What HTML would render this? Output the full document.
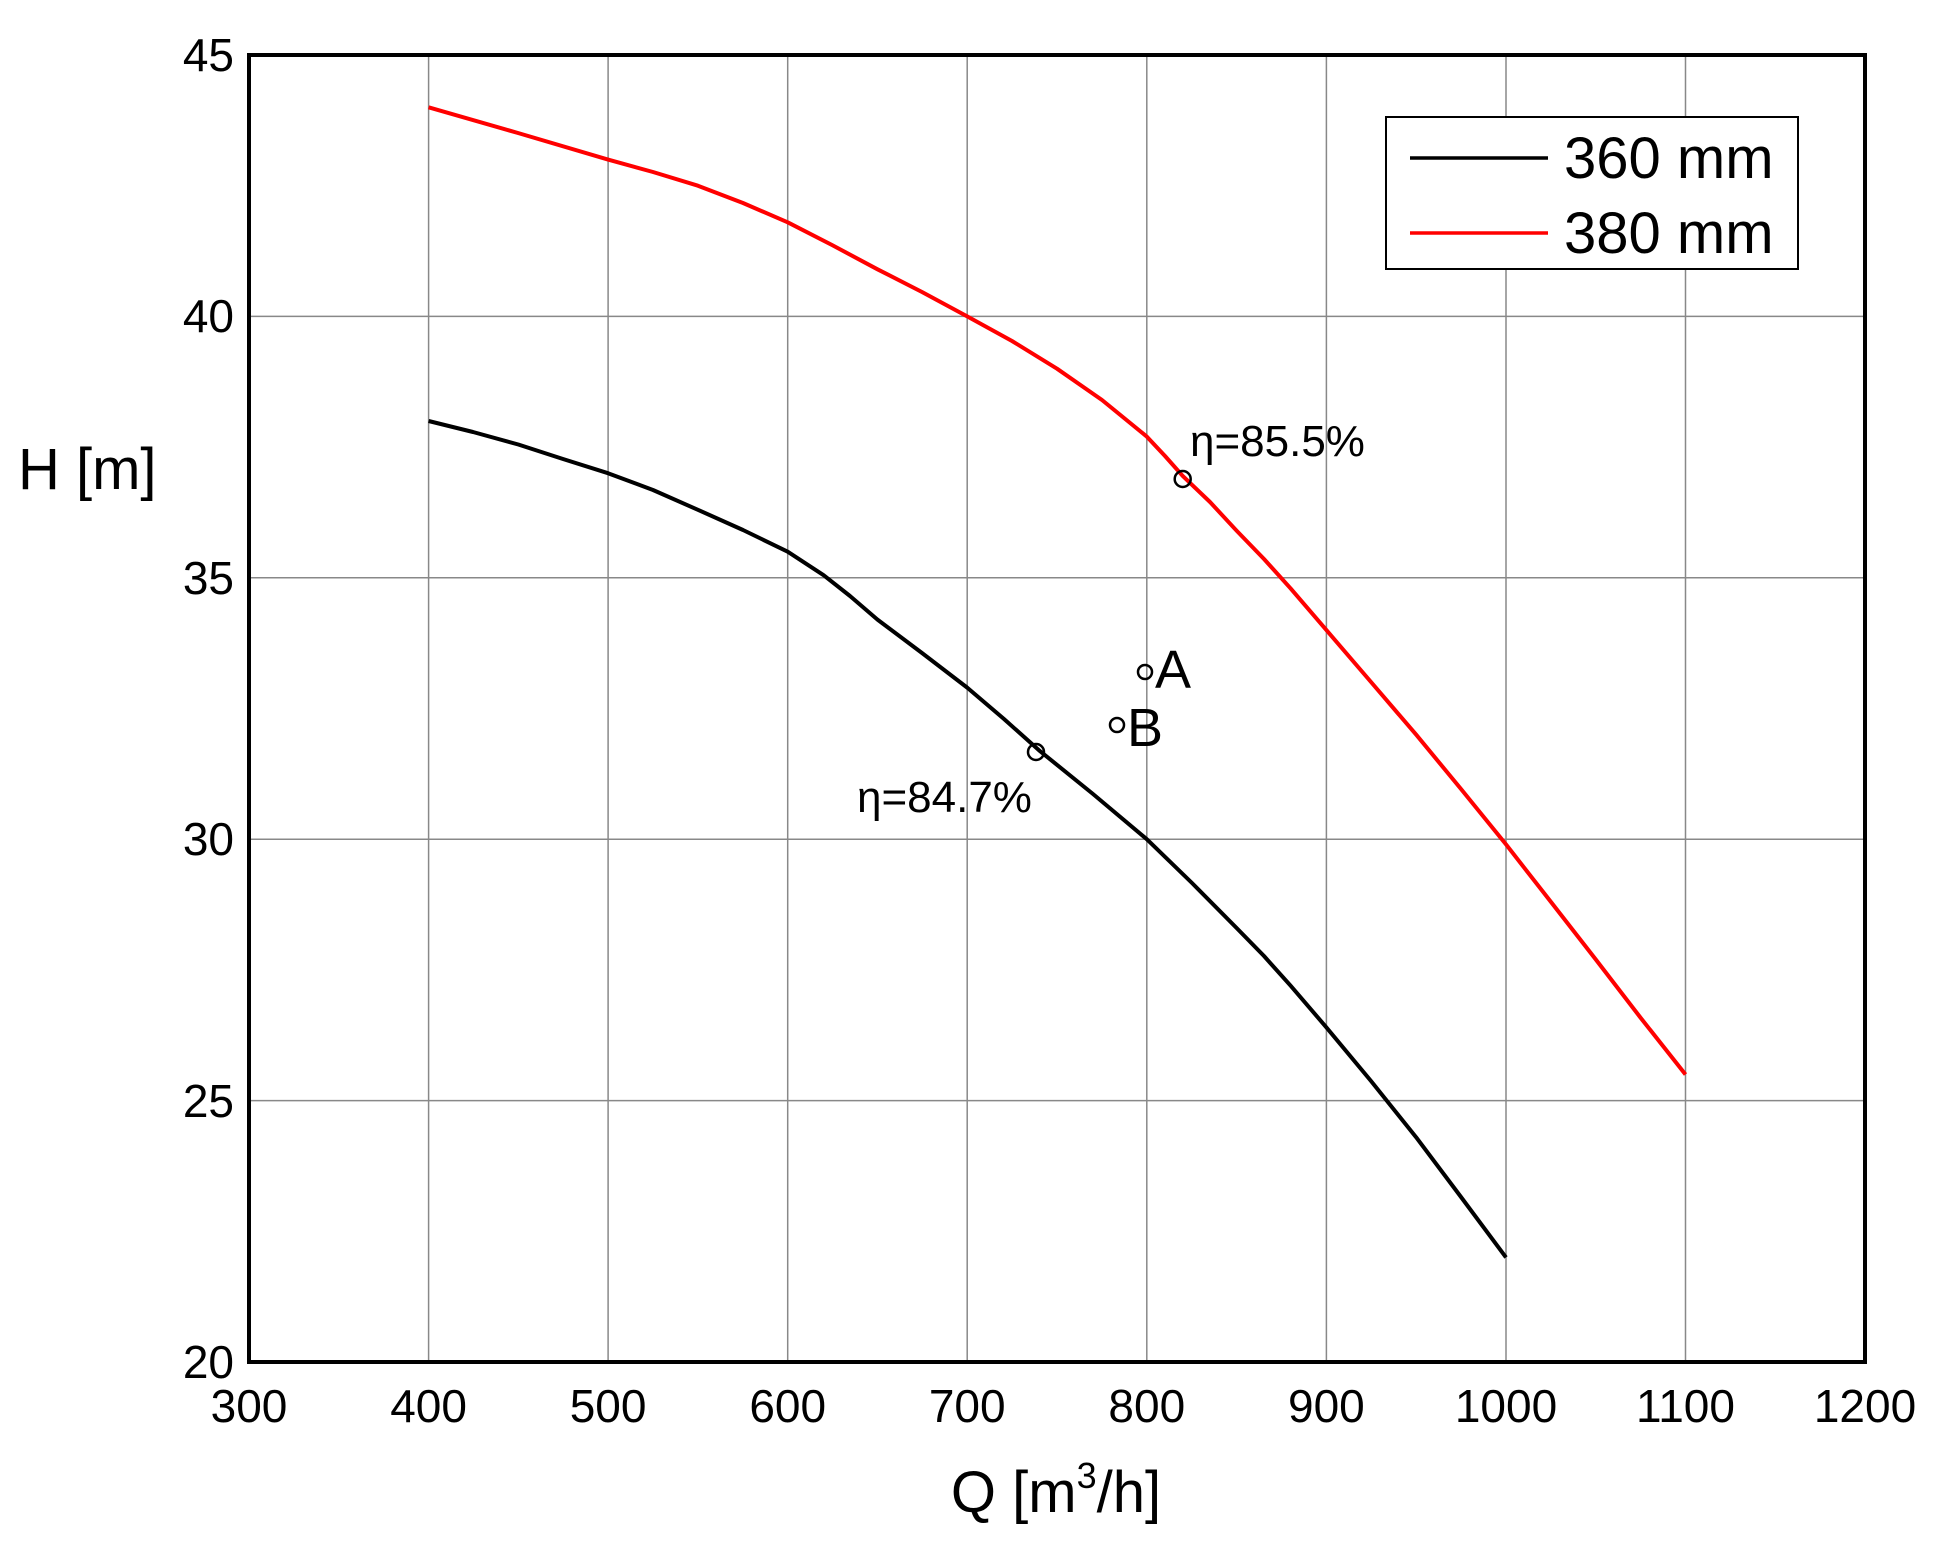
<!DOCTYPE html>
<html><head><meta charset="utf-8"><style>
html,body{margin:0;padding:0;background:#fff;}
svg text{font-family:"Liberation Sans",sans-serif;fill:#000;}
</style></head><body>
<svg width="1934" height="1546" viewBox="0 0 1934 1546" xmlns="http://www.w3.org/2000/svg">
<g stroke="#888" stroke-width="1.5">
<line x1="428.6" y1="55" x2="428.6" y2="1362"/>
<line x1="608.1" y1="55" x2="608.1" y2="1362"/>
<line x1="787.7" y1="55" x2="787.7" y2="1362"/>
<line x1="967.2" y1="55" x2="967.2" y2="1362"/>
<line x1="1146.8" y1="55" x2="1146.8" y2="1362"/>
<line x1="1326.4" y1="55" x2="1326.4" y2="1362"/>
<line x1="1506" y1="55" x2="1506" y2="1362"/>
<line x1="1685.5" y1="55" x2="1685.5" y2="1362"/>
<line x1="249" y1="316.4" x2="1865" y2="316.4"/>
<line x1="249" y1="577.8" x2="1865" y2="577.8"/>
<line x1="249" y1="839.2" x2="1865" y2="839.2"/>
<line x1="249" y1="1100.6" x2="1865" y2="1100.6"/>
</g>
<rect x="249" y="55" width="1616" height="1307" fill="none" stroke="#000" stroke-width="4"/>
<polyline fill="none" stroke="#000" stroke-width="4" stroke-linejoin="round" points="428.6,421 473,432 518.3,444.5 563,459 608,473.2 653,490 697.9,509.8 743,530 787.7,551.7 823.6,575.2 850,596 877.5,619.6 922,653 967.2,687.6 1004,719 1039,750.3 1093,794 1146.8,839.2 1192,883 1236.6,928 1264,956 1290.5,985.6 1326.4,1027.4 1371,1081 1416.1,1137.2 1461,1197 1506,1257.4"/>
<polyline fill="none" stroke="#f00" stroke-width="4" stroke-linejoin="round" points="428.6,107.3 518,133 608,159.6 653,172 697.9,185.7 743,203 787.7,222.3 832,245 877.5,269.3 922,292 967.2,316.4 1012,341 1057,368.7 1102,400 1146.8,436.6 1165,456 1182.7,475.9 1210,502 1236.6,530.7 1264,559 1290.5,588.3 1326.4,630.1 1371,682 1416.1,734.6 1461,789 1506,844.4 1551,902 1595.7,959.4 1640,1017 1685.5,1074.5"/>
<g fill="none" stroke="#000" stroke-width="2.5">
<circle cx="1182.7" cy="479" r="8"/>
<circle cx="1036" cy="752" r="8"/>
<circle cx="1145" cy="672" r="7"/>
<circle cx="1117" cy="725" r="7"/>
</g>
<g font-size="44">
<text x="1190" y="456">η=85.5%</text>
<text x="857" y="812">η=84.7%</text>
</g>
<g font-size="54">
<text x="1155" y="688">A</text>
<text x="1127" y="746">B</text>
</g>
<g font-size="46" text-anchor="end">
<text x="234" y="71">45</text>
<text x="234" y="332">40</text>
<text x="234" y="594">35</text>
<text x="234" y="855">30</text>
<text x="234" y="1117">25</text>
<text x="234" y="1378">20</text>
</g>
<g font-size="46" text-anchor="middle">
<text x="249" y="1422">300</text>
<text x="428.6" y="1422">400</text>
<text x="608.1" y="1422">500</text>
<text x="787.7" y="1422">600</text>
<text x="967.2" y="1422">700</text>
<text x="1146.8" y="1422">800</text>
<text x="1326.4" y="1422">900</text>
<text x="1506" y="1422">1000</text>
<text x="1685.5" y="1422">1100</text>
<text x="1865" y="1422">1200</text>
</g>
<text x="18" y="489" font-size="58">H [m]</text>
<text x="1056" y="1512" font-size="58" text-anchor="middle">Q [m<tspan font-size="36" dy="-24">3</tspan><tspan dy="24">/h]</tspan></text>
<rect x="1386" y="117" width="412" height="152" fill="#fff" stroke="#000" stroke-width="2"/>
<line x1="1410" y1="158" x2="1548" y2="158" stroke="#000" stroke-width="3.5"/>
<line x1="1410" y1="233" x2="1548" y2="233" stroke="#f00" stroke-width="3.5"/>
<text x="1564" y="178" font-size="58">360 mm</text>
<text x="1564" y="253" font-size="58">380 mm</text>
</svg>
</body></html>
